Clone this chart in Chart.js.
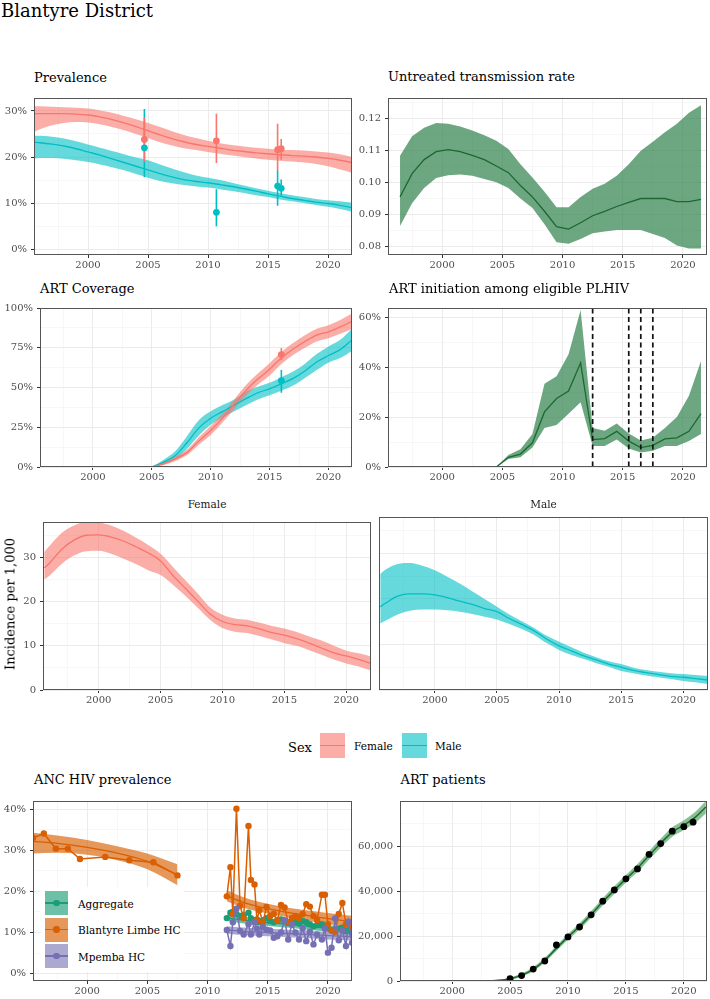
<!DOCTYPE html>
<html><head><meta charset="utf-8">
<script src="https://cdn.jsdelivr.net/npm/chart.js@4.4.1/dist/chart.umd.min.js"></script>
<style>
html,body{margin:0;padding:0;background:#fff;}
body{width:710px;height:999px;overflow:hidden;position:relative;font-family:'DejaVu Serif',serif;}
canvas{position:absolute;}
.t{position:absolute;white-space:nowrap;line-height:1;color:#000;font-family:'DejaVu Serif',serif;}
.key{position:absolute;}
.key .ln{position:absolute;left:0;right:0;top:50%;height:1.4px;margin-top:-0.7px;}
.key .dot{position:absolute;left:50%;top:50%;width:6.5px;height:6.5px;margin:-3.25px 0 0 -3.25px;border-radius:50%;}
</style></head><body>
<script>
// ---------------- DATA ----------------
const xTickValues = [1997.5,2000,2002.5,2005,2007.5,2010,2012.5,2015,2017.5,2020];

// Prevalence
const prevYears = [1995.5,1996,1997,1998,1999,2000,2001,2002,2003,2004,2005,2006,2007,2008,2009,2010,2011,2012,2013,2014,2015,2016,2017,2018,2019,2020,2021,2022];
const prevFemale = [29.4,29.4,29.4,29.4,29.3,29.1,28.7,28.1,27.4,26.6,25.7,24.8,24.0,23.3,22.7,22.3,21.9,21.5,21.2,20.9,20.7,20.5,20.3,20.2,20.0,19.7,19.3,18.8];
const prevFemaleHi = [31.0,31.0,30.9,30.8,30.7,30.5,30.1,29.6,28.9,28.2,27.4,26.5,25.6,24.8,24.1,23.5,23.0,22.6,22.3,22.0,21.8,21.6,21.5,21.4,21.2,21.0,20.6,20.0];
const prevFemaleLo = [25.4,26.0,26.9,27.4,27.6,27.5,27.1,26.5,25.8,25.0,24.1,23.2,22.5,21.9,21.5,21.1,20.7,20.3,20.0,19.7,19.4,19.2,19.0,18.8,18.5,18.0,17.3,16.6];
const prevMale = [23.2,23.1,22.8,22.4,21.8,21.1,20.4,19.6,18.8,18.0,17.2,16.4,15.7,15.1,14.7,14.4,14.0,13.6,13.1,12.6,12.0,11.5,11.0,10.6,10.2,9.9,9.5,9.0];
const prevMaleHi = [24.6,24.6,24.4,24.0,23.4,22.7,22.0,21.3,20.6,19.9,19.3,18.4,17.5,16.7,16.0,15.5,15.0,14.4,13.8,13.2,12.7,12.2,11.7,11.3,10.9,10.6,10.4,10.1];
const prevMaleLo = [19.7,19.8,19.8,19.6,19.3,18.9,18.4,17.8,17.1,16.3,15.5,14.8,14.3,13.9,13.6,13.4,13.0,12.6,12.2,11.7,11.3,10.8,10.4,10.0,9.6,9.2,8.7,8.1];
const surveyYears = [2004.7,2010.7,2015.8,2016.1];
const surveyFemale = [23.8,23.5,21.6,21.8];
const surveyFemaleLo = [19.0,18.7,17.0,19.4];
const surveyFemaleHi = [28.5,29.4,27.2,23.9];
const surveyMale = [22.0,8.0,13.7,13.2];
const surveyMaleLo = [15.6,5.0,9.4,11.6];
const surveyMaleHi = [30.4,13.0,17.1,15.1];

// Untreated transmission rate
const rtYears = [1996.5,1997.5,1998.5,1999.5,2000.5,2001.5,2002.5,2003.5,2004.5,2005.5,2006.5,2007.5,2008.5,2009.5,2010.5,2011.5,2012.5,2013.5,2014.5,2015.5,2016.5,2017.5,2018.5,2019.5,2020.5,2021.5];
const rtMid = [0.0954,0.1027,0.1071,0.1096,0.1102,0.1096,0.1084,0.1071,0.1051,0.1030,0.0990,0.0954,0.0909,0.0861,0.0853,0.0873,0.0895,0.0909,0.0924,0.0937,0.0949,0.0949,0.0949,0.0939,0.0939,0.0946];
const rtHi = [0.1083,0.1144,0.1171,0.1186,0.1183,0.1175,0.1162,0.1147,0.1130,0.1104,0.1056,0.1015,0.0970,0.0922,0.0922,0.0954,0.0980,0.0995,0.1020,0.1056,0.1099,0.1127,0.1157,0.1183,0.1218,0.1241];
const rtLo = [0.0863,0.0934,0.0982,0.1013,0.1022,0.1024,0.1020,0.1010,0.1000,0.0982,0.0949,0.0919,0.0868,0.0812,0.0807,0.0822,0.0840,0.0846,0.0850,0.0850,0.0850,0.0838,0.0825,0.0802,0.0792,0.0792];

// ART coverage
const covYears = [2005,2006,2007,2008,2009,2010,2011,2012,2013,2014,2015,2016,2017,2018,2019,2020,2021,2022];
const covFemale = [0,2.0,5.1,9.2,16.4,23.0,30.7,39.5,48.2,55.3,61.5,68.6,74.2,78.9,83.0,85.0,88.1,91.6];
const covFemaleHi = [0,2.8,6.5,11.0,18.8,25.8,33.5,42.5,51.5,58.8,65.3,72.3,78.0,82.8,87.0,89.2,92.5,96.5];
const covFemaleLo = [0,1.3,3.8,7.5,14.2,20.2,28.0,36.5,45.0,51.8,57.6,64.8,70.4,75.0,79.0,81.0,83.8,86.7];
const covMale = [0,3.1,7.2,15.4,24.6,30.7,34.8,38.9,43.0,46.7,49.2,52.3,55.7,60.4,66.0,70.1,73.8,79.9];
const covMaleHi = [0,4.5,10.0,19.5,29.5,35.0,39.0,42.5,47.5,50.5,53.0,56.5,60.0,65.0,71.0,75.8,80.0,87.0];
const covMaleLo = [0,1.8,4.8,11.5,19.8,26.6,31.0,35.0,38.9,42.5,45.1,48.0,51.2,56.0,61.0,65.6,68.5,73.0];
const covSurveyYear = [2016.0];
const covSurveyFemale = [70.7], covSurveyFemaleLo = [67.2], covSurveyFemaleHi = [74.8];
const covSurveyMale = [54.3], covSurveyMaleLo = [46.7], covSurveyMaleHi = [61.1];

// ART initiation among eligible PLHIV
const initYears = [2004.5,2005.5,2006.5,2007.5,2008.5,2009.5,2010.5,2011.5,2012.5,2013.5,2014.5,2015.5,2016.5,2017.5,2018.5,2019.5,2020.5,2021.5];
const initMid = [0,3.9,5.2,9.7,22.1,27.5,30.5,41.8,11.0,11.4,14.3,10.4,7.8,8.7,11.3,11.7,14.3,21.4];
const initHi = [0,4.8,7.1,13.2,33.4,36.4,45.2,63.0,15.6,14.5,17.5,13.4,10.6,11.7,15.6,20.1,28.6,42.5];
const initLo = [0,3.2,3.9,7.8,15.6,16.9,21.4,26.0,8.4,8.4,11.0,7.4,5.8,6.5,8.4,8.4,10.4,13.2];
const initBreaks = [2012.5,2015.5,2016.5,2017.5];

// Incidence per 1,000
const incYears = [1995.6,1996,1997,1998,1999,2000,2001,2002,2003,2004,2005,2006,2007,2008,2009,2010,2011,2012,2013,2014,2015,2016,2017,2018,2019,2020,2021,2022];
const incFemale = [27.6,28.6,31.8,33.9,35.0,35.1,34.6,33.7,32.4,31.0,29.2,25.9,23.0,20.1,17.2,15.5,14.8,14.5,13.8,13.0,12.4,11.6,10.6,9.5,8.4,7.7,6.9,6.0];
const incFemaleHi = [31.2,32.5,35.5,37.2,38.0,37.9,37.2,36.0,34.5,32.8,30.8,27.8,24.8,21.8,18.7,17.0,16.2,15.9,15.2,14.5,13.9,13.1,12.1,11.2,10.0,8.9,8.3,7.6];
const incFemaleLo = [25.0,25.8,28.5,30.4,31.4,31.5,30.8,29.7,28.5,27.1,26.0,23.8,21.3,18.6,15.9,14.0,13.2,12.9,12.2,11.4,10.6,10.0,9.0,8.0,6.9,6.0,5.3,4.4];
const incMale = [18.3,19.0,20.6,21.1,21.1,20.9,20.3,19.5,18.8,17.9,17.2,15.7,14.4,13.0,11.2,9.7,8.6,7.5,6.6,5.7,5.0,4.3,3.8,3.4,3.0,2.8,2.5,2.2];
const incMaleHi = [25.5,26.4,27.7,27.9,27.3,26.3,24.9,23.4,21.7,20.0,18.3,16.6,15.1,13.6,11.9,10.6,9.4,8.2,7.2,6.3,5.7,4.9,4.4,4.0,3.7,3.5,3.3,3.1];
const incMaleLo = [14.6,15.2,16.6,17.4,17.7,17.7,17.5,17.2,16.7,16.1,15.5,14.5,13.4,12.1,10.3,8.8,7.7,6.8,5.9,5.1,4.2,3.7,3.2,2.8,2.4,2.0,1.7,1.3];

// ANC HIV prevalence
const ancEarlyYears = [1995.5,1996.4,1997.4,1998.4,1999.4,2001.5,2003.5,2005.5,2007.5];
const ancEarlyLimbe = [33.0,34.1,30.4,30.4,27.9,28.4,27.6,27.1,23.9];
const ancEarlyFitYears = [1995.4,1997.5,2000,2002.5,2005,2007.5];
const ancEarlyFit = [32.2,31.7,30.7,29.3,27.3,24.1];
const ancEarlyFitHi = [34.3,33.6,32.5,31.0,29.2,26.6];
const ancEarlyFitLo = [29.2,29.4,28.9,27.6,25.4,21.5];
const ancEarlyMpembaYear = [2007.5];
const ancEarlyMpemba = [15.8];
const ancYears = [2011.6,2011.9,2012.1,2012.4,2012.7,2013.0,2013.4,2013.6,2013.9,2014.1,2014.3,2014.6,2014.9,2015.2,2015.5,2015.8,2016.1,2016.4,2016.7,2017.0,2017.3,2017.6,2017.9,2018.2,2018.5,2018.8,2019.1,2019.5,2019.75,2020.0,2020.3,2020.6,2020.9,2021.2,2021.5,2021.7,2022.0];
const ancLimbe = [18.8,25.9,14.5,40.1,16.5,13.5,35.9,22.8,21.7,13.0,15.4,12.5,16.2,14.0,14.5,13.0,16.7,16.1,12.5,13.5,14.0,13.5,14.5,16.9,16.3,14.0,13.0,19.2,19.2,12.0,10.5,10.2,14.5,17.2,12.0,12.5,11.5];
const ancAggregate = [13.5,14.8,15.0,14.5,14.0,14.2,14.8,13.5,13.0,13.2,12.5,13.0,13.5,12.8,12.5,13.0,13.2,12.8,12.3,12.0,12.5,12.2,12.8,12.5,12.0,11.5,11.8,12.0,11.2,11.0,10.5,10.8,11.0,11.2,10.3,10.5,9.8];
const ancMpemba = [10.6,6.7,12.5,15.8,10.4,9.5,12.0,9.5,12.5,11.0,9.5,11.3,10.7,10.5,8.7,9.1,10.0,13.0,8.3,12.0,10.0,8.3,11.0,7.9,10.2,7.1,9.5,8.3,11.0,5.1,6.3,13.4,8.1,10.5,6.7,12.6,7.5];
const ancFitYears = [2011.6,2013,2015,2017,2019,2021,2022];
const ancFitLimbe = [18.9,17.3,15.8,14.7,13.8,13.0,12.6];
const ancFitLimbeHi = [20.3,18.6,17.0,15.9,15.1,14.4,14.1];
const ancFitLimbeLo = [17.6,16.0,14.6,13.5,12.5,11.6,11.1];
const ancFitAgg = [13.6,13.0,12.4,11.9,11.3,10.7,10.4];
const ancFitAggHi = [14.4,13.8,13.2,12.7,12.1,11.5,11.2];
const ancFitAggLo = [12.8,12.2,11.6,11.1,10.5,9.9,9.6];
const ancFitMpemba = [10.6,10.3,10.0,9.7,9.4,9.1,9.0];
const ancFitMpembaHi = [11.5,11.2,10.9,10.6,10.3,10.0,9.9];
const ancFitMpembaLo = [9.7,9.4,9.1,8.8,8.5,8.2,8.1];

// ART patients
const artYears = [2003.2,2004,2005,2006,2007,2008,2009,2010,2011,2012,2013,2014,2015,2016,2017,2018,2019,2020,2021,2021.9];
const artFit = [0,300,1000,2600,5200,9300,14500,19600,24300,29600,35200,40400,45400,50200,55800,61200,66200,69300,72800,77300];
const artFitHi = [150,600,1500,3300,6100,10300,15700,20900,25700,31100,36800,42100,47100,52000,57700,63200,68300,71500,75200,80000];
const artFitLo = [0,50,500,1900,4300,8300,13300,18300,22900,28100,33600,38700,43700,48400,53900,59200,64100,67100,70400,74500];
const artObsYears = [2005,2006,2007,2008,2009,2010,2011,2012,2013,2014,2015,2016,2017,2018,2019,2020,2020.8];
const artObs = [1000,2400,5300,8900,16000,19600,24000,29400,35500,40500,45400,49800,56300,61100,66600,68600,70600];

// ---------------- STYLE ----------------
const FONT = 'DejaVu Serif';
const C_F = '#F8766D', C_F_FILL = 'rgba(248,118,109,0.6)';
const C_M = '#00BFC4', C_M_FILL = 'rgba(0,191,196,0.6)';
const C_G = 'rgb(28,105,48)', C_G_FILL = 'rgba(40,125,70,0.68)';
const C_AGG = '#1B9E77', C_LIM = '#D95F02', C_MPE = '#7570B3';
const fillA = (hex, a) => { const n = parseInt(hex.slice(1),16); return `rgba(${n>>16},${(n>>8)&255},${n&255},${a})`; };

Chart.defaults.font.family = FONT;

function isMajor(v, step){ const r = v/step; return Math.abs(r - Math.round(r)) < 1e-6; }
const pairs = (xs, ys) => xs.map((x,i)=>({x, y: ys[i]}));

function lineDS(xs, ys, color, w, extra){ return Object.assign({data: pairs(xs,ys), borderColor: color, borderWidth: w||1.3, pointRadius: 0, fill: false, order: 5, clip: 0, cubicInterpolationMode: 'monotone'}, extra||{}); }
function bandDS(xs, lo, hi, fillColor, extra){
  return [
    Object.assign({data: pairs(xs,lo), borderWidth: 0, borderColor: 'rgba(0,0,0,0)', pointRadius: 0, fill: false, order: 10, clip: 0, cubicInterpolationMode: 'monotone'}, extra||{}),
    Object.assign({data: pairs(xs,hi), borderWidth: 0, borderColor: 'rgba(0,0,0,0)', pointRadius: 0, fill: '-1', backgroundColor: fillColor, order: 10, clip: 0, cubicInterpolationMode: 'monotone'}, extra||{})
  ];
}
function pointDS(xs, ys, color, r, extra){ return Object.assign({data: pairs(xs,ys), showLine: false, pointRadius: r||3.3, pointBackgroundColor: color, pointBorderColor: color, pointBorderWidth: 0, order: 1, clip: 0}, extra||{}); }
function errDS(xs, lo, hi, color, w){
  const d = [];
  xs.forEach((x,i)=>{ d.push({x, y: lo[i]}, {x, y: hi[i]}, {x, y: null}); });
  return {data: d, borderColor: color, borderWidth: w||1.6, pointRadius: 0, fill: false, spanGaps: false, order: 2, clip: 0};
}
function vlineDS(x, color){ return {data: [{x, y: -10}, {x, y: 100}], borderColor: color, borderWidth: 1.7, borderDash: [5,3.5], pointRadius: 0, fill: false, order: 0, clip: 0}; }

const framePlugin = {
  id: 'frame',
  afterDatasetsDraw(chart){
    const {ctx, chartArea: a} = chart;
    ctx.save();
    ctx.strokeStyle = '#555555'; ctx.lineWidth = 1;
    ctx.strokeRect(Math.round(a.left)+0.5, Math.round(a.top)+0.5, Math.round(a.right-a.left)-1, Math.round(a.bottom-a.top)-1);
    ctx.restore();
  }
};

function axisOpts(step, fmt, showLabels, showTicks){
  return {
    ticks: {
      display: showLabels,
      autoSkip: false, maxRotation: 0, minRotation: 0,
      color: '#4D4D4D', font: {family: FONT, size: 10},
      callback: (v) => isMajor(v, step) ? fmt(v) : ''
    },
    grid: {
      drawTicks: true, tickLength: 3, tickWidth: 1,
      color: (c) => (c.tick && !isMajor(c.tick.value, step)) ? '#F1F1F1' : '#EBEBEB',
      lineWidth: (c) => (c.tick && !isMajor(c.tick.value, step)) ? 0.6 : 1,
      tickColor: (c) => (showTicks && c.tick && isMajor(c.tick.value, step)) ? '#333333' : 'rgba(0,0,0,0)'
    },
    border: {display: false}
  };
}

function makePanel(p){
  const yW = p.yW, xH = p.xH || 22, padT = p.padT || 5, padR = p.padR || 3;
  const r = p.rect;
  const w = r.r - r.l + yW + padR, h = r.b - r.t + padT + xH;
  const c = document.createElement('canvas');
  c.width = w; c.height = h;
  c.style.left = (r.l - yW) + 'px'; c.style.top = (r.t - padT) + 'px';
  c.style.width = w + 'px'; c.style.height = h + 'px';
  document.body.appendChild(c);
  const xo = axisOpts(5, v => String(v), true, true);
  const yo = axisOpts(p.yStep, p.yFmt, p.yLabels !== false, p.yLabels !== false);
  xo.ticks.padding = 1;
  yo.ticks.padding = 4;
  new Chart(c, {
    type: 'line',
    data: {datasets: p.datasets},
    options: {
      responsive: false, animation: false, devicePixelRatio: 1,
      layout: {autoPadding: false, padding: {top: padT, right: padR, left: 0, bottom: 0}},
      plugins: {legend: {display: false}, tooltip: {enabled: false}, title: {display: false}},
      elements: {point: {radius: 0}},
      scales: {
        x: Object.assign({type: 'linear', min: p.xMin || 1995.5, max: p.xMax || 2022,
          afterBuildTicks: s => { s.ticks = xTickValues.map(v => ({value: v})); },
          afterFit: s => { s.height = xH; }}, xo),
        y: Object.assign({type: 'linear', min: p.yMin, max: p.yMax,
          afterBuildTicks: s => { s.ticks = p.yTicks.map(v => ({value: v})); },
          afterFit: s => { s.width = yW; }}, yo)
      }
    },
    plugins: [framePlugin]
  });
}

function text(str, left, baseline, size, extra){
  const d = document.createElement('div');
  d.className = 't';
  d.textContent = str;
  d.style.fontSize = size + 'px';
  d.style.left = left + 'px';
  d.style.top = (baseline - 0.846 * size) + 'px';
  if (extra) Object.assign(d.style, extra);
  document.body.appendChild(d);
  return d;
}
function key(left, top, w, h, fill, lineColor, dotColor){
  const k = document.createElement('div');
  k.className = 'key';
  Object.assign(k.style, {left: left+'px', top: top+'px', width: w+'px', height: h+'px', background: fill});
  const l = document.createElement('div'); l.className = 'ln'; l.style.background = lineColor; k.appendChild(l);
  if (dotColor){ const d = document.createElement('div'); d.className = 'dot'; d.style.background = dotColor; k.appendChild(d); }
  document.body.appendChild(k);
}
const pct = v => v + '%';

// ---------------- PANELS ----------------
// Prevalence
makePanel({rect: {l: 34, t: 93, r: 352, b: 255}, yW: 34, yMin: -1.26, yMax: 32.8, yStep: 10, yFmt: pct,
  yTicks: [0,5,10,15,20,25,30],
  datasets: [
    ...bandDS(prevYears, prevFemaleLo, prevFemaleHi, C_F_FILL),
    ...bandDS(prevYears, prevMaleLo, prevMaleHi, C_M_FILL),
    lineDS(prevYears, prevFemale, C_F, 1.4),
    lineDS(prevYears, prevMale, C_M, 1.4),
    errDS(surveyYears, surveyFemaleLo, surveyFemaleHi, C_F),
    errDS(surveyYears, surveyMaleLo, surveyMaleHi, C_M),
    pointDS(surveyYears, surveyFemale, C_F, 3.4),
    pointDS(surveyYears, surveyMale, C_M, 3.4)
  ]});

// Untreated transmission rate
makePanel({rect: {l: 388, t: 93, r: 707, b: 255}, yW: 40, yMin: 0.0772, yMax: 0.1264, yStep: 0.01, yFmt: v => v.toFixed(2),
  yTicks: [0.08,0.085,0.09,0.095,0.10,0.105,0.11,0.115,0.12,0.125],
  datasets: [
    ...bandDS(rtYears, rtLo, rtHi, C_G_FILL, {cubicInterpolationMode: 'default', tension: 0}),
    lineDS(rtYears, rtMid, C_G, 1.3, {cubicInterpolationMode: 'default', tension: 0})
  ]});

// ART coverage
makePanel({rect: {l: 40, t: 303, r: 352, b: 467}, yW: 40, yMin: 0, yMax: 100, yStep: 25, yFmt: pct,
  yTicks: [0,12.5,25,37.5,50,62.5,75,87.5,100],
  datasets: [
    ...bandDS(covYears, covFemaleLo, covFemaleHi, C_F_FILL),
    ...bandDS(covYears, covMaleLo, covMaleHi, C_M_FILL),
    lineDS(covYears, covFemale, C_F, 1.3),
    lineDS(covYears, covMale, C_M, 1.3),
    errDS(covSurveyYear, covSurveyFemaleLo, covSurveyFemaleHi, C_F),
    errDS(covSurveyYear, covSurveyMaleLo, covSurveyMaleHi, C_M),
    pointDS(covSurveyYear, covSurveyFemale, C_F, 3.4),
    pointDS(covSurveyYear, covSurveyMale, C_M, 3.4)
  ]});

// ART initiation
makePanel({rect: {l: 388, t: 303, r: 707, b: 467}, yW: 40, yMin: 0, yMax: 63.8, yStep: 20, yFmt: pct,
  yTicks: [0,10,20,30,40,50,60],
  datasets: [
    ...bandDS(initYears, initLo, initHi, C_G_FILL, {cubicInterpolationMode: 'default', tension: 0}),
    lineDS(initYears, initMid, C_G, 1.3, {cubicInterpolationMode: 'default', tension: 0}),
    ...initBreaks.map(x => vlineDS(x, '#111111'))
  ]});

// Incidence Female
makePanel({rect: {l: 43, t: 517, r: 371, b: 690}, yW: 43, yMin: 0, yMax: 38, yStep: 10, yFmt: v => String(v),
  yTicks: [0,5,10,15,20,25,30,35],
  datasets: [
    ...bandDS(incYears, incFemaleLo, incFemaleHi, C_F_FILL),
    lineDS(incYears, incFemale, C_F, 1.3)
  ]});

// Incidence Male
makePanel({rect: {l: 379, t: 517, r: 708, b: 690}, yW: 2, padR: 2, yMin: 0, yMax: 38, yStep: 10, yFmt: v => String(v), yLabels: false,
  yTicks: [0,5,10,15,20,25,30,35],
  datasets: [
    ...bandDS(incYears, incMaleLo, incMaleHi, C_M_FILL),
    lineDS(incYears, incMale, C_M, 1.3)
  ]});

// ANC HIV prevalence
makePanel({rect: {l: 33, t: 796, r: 352, b: 981}, yW: 33, yMin: -1.8, yMax: 42, yStep: 10, yFmt: pct,
  yTicks: [0,5,10,15,20,25,30,35,40],
  datasets: [
    ...bandDS(ancEarlyFitYears, ancEarlyFitLo, ancEarlyFitHi, fillA(C_LIM, 0.65)),
    ...bandDS(ancFitYears, ancFitAggLo, ancFitAggHi, fillA(C_AGG, 0.65)),
    ...bandDS(ancFitYears, ancFitLimbeLo, ancFitLimbeHi, fillA(C_LIM, 0.65)),
    ...bandDS(ancFitYears, ancFitMpembaLo, ancFitMpembaHi, fillA(C_MPE, 0.6)),
    lineDS(ancEarlyFitYears, ancEarlyFit, C_LIM, 1.3, {order: 9}),
    lineDS(ancFitYears, ancFitAgg, C_AGG, 1.3, {order: 9}),
    lineDS(ancFitYears, ancFitLimbe, C_LIM, 1.3, {order: 9}),
    lineDS(ancFitYears, ancFitMpemba, C_MPE, 1.3, {order: 9}),
    lineDS(ancYears, ancAggregate, C_AGG, 1.5, {cubicInterpolationMode: 'default', tension: 0, pointRadius: 3.2, pointBackgroundColor: C_AGG, pointBorderWidth: 0, order: 4}),
    lineDS(ancEarlyYears, ancEarlyLimbe, C_LIM, 1.5, {cubicInterpolationMode: 'default', tension: 0, pointRadius: 3.2, pointBackgroundColor: C_LIM, pointBorderWidth: 0, order: 3}),
    lineDS(ancYears, ancLimbe, C_LIM, 1.5, {cubicInterpolationMode: 'default', tension: 0, pointRadius: 3.2, pointBackgroundColor: C_LIM, pointBorderWidth: 0, order: 3}),
    pointDS(ancEarlyMpembaYear, ancEarlyMpemba, C_MPE, 3.2),
    lineDS(ancYears, ancMpemba, C_MPE, 1.5, {cubicInterpolationMode: 'default', tension: 0, pointRadius: 3.2, pointBackgroundColor: C_MPE, pointBorderWidth: 0, order: 2})
  ]});

// ART patients
makePanel({rect: {l: 400, t: 796, r: 707, b: 981}, yW: 45, yMin: 0, yMax: 80000, yStep: 20000, yFmt: v => v.toLocaleString('en-US'),
  yTicks: [0,10000,20000,30000,40000,50000,60000,70000],
  datasets: [
    ...bandDS(artYears, artFitLo, artFitHi, 'rgba(60,150,80,0.6)'),
    lineDS(artYears, artFit, C_G, 1.5),
    pointDS(artObsYears, artObs, '#000000', 3.4)
  ]});

// ---------------- TEXT & LEGENDS ----------------
text('Blantyre District', 1, 17.5, 18);
text('Prevalence', 34, 81.7, 13);
text('Untreated transmission rate', 388, 81.2, 13);
text('ART Coverage', 40, 292.8, 13);
text('ART initiation among eligible PLHIV', 389, 292.8, 13);
text('ANC HIV prevalence', 34, 784, 13);
text('ART patients', 400.5, 783.5, 13);
text('Female', 207, 507.5, 10.5, {transform: 'translateX(-50%)', color: '#1A1A1A'});
text('Male', 543.5, 507.5, 10.5, {transform: 'translateX(-50%)', color: '#1A1A1A'});
(function(){
  const d = document.createElement('div');
  d.className = 't';
  d.textContent = 'Incidence per 1,000';
  Object.assign(d.style, {fontSize: '13px', left: '9.5px', top: '603.5px', transform: 'translate(-50%,-50%) rotate(-90deg)'});
  document.body.appendChild(d);
})();

// Sex legend
text('Sex', 288, 751.5, 13);
key(320, 733, 25, 25, C_F_FILL, C_F, null);
text('Female', 354, 750, 10.5);
key(402, 733, 25, 25, C_M_FILL, C_M, null);
text('Male', 435, 750, 10.5);

// ANC legend (inside panel)
(function(){
  const bg = document.createElement('div');
  Object.assign(bg.style, {position: 'absolute', left: '41px', top: '887px', width: '143px', height: '85px', background: '#fff'});
  document.body.appendChild(bg);
})();
key(45, 891, 23, 24, fillA(C_AGG, 0.65), C_AGG, C_AGG);
text('Aggregate', 78, 907.5, 10.5, {color: '#000'});
key(45, 917.5, 23, 24, fillA(C_LIM, 0.65), C_LIM, C_LIM);
text('Blantyre Limbe HC', 78, 934, 10.5, {color: '#000'});
key(45, 944, 23, 24, fillA(C_MPE, 0.6), C_MPE, C_MPE);
text('Mpemba HC', 78, 960.5, 10.5, {color: '#000'});
</script>
</body></html>
